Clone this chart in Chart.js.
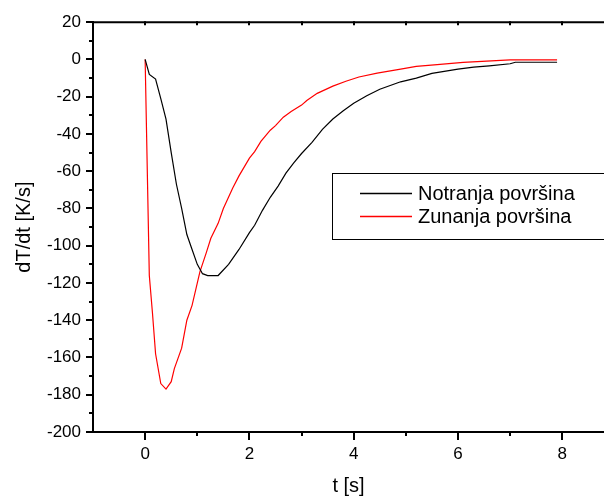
<!DOCTYPE html>
<html>
<head>
<meta charset="utf-8">
<script src="https://cdn.jsdelivr.net/npm/chart.js@4/dist/chart.umd.min.js"></script>
<style>
  html, body { margin: 0; padding: 0; background: #fff; }
  #wrap { width: 604px; height: 497px; }
</style>
</head>
<body>
<div id="wrap"><canvas id="c" width="604" height="497"></canvas></div>
<script>
// Inner surface (Notranja površina): time [s] and dT/dt [K/s]
const tInner = [0, 0.08, 0.2, 0.3, 0.4, 0.5, 0.6, 0.7, 0.8, 0.9, 1.0, 1.1, 1.2, 1.4, 1.6, 1.8, 2.0, 2.1, 2.25, 2.4, 2.55, 2.7, 2.85, 3.0, 3.2, 3.4, 3.6, 3.8, 4.0, 4.25, 4.5, 4.9, 5.2, 5.5, 6.0, 6.3, 6.6, 7.0, 7.1, 7.9];
const vInner = [0, -8, -10.5, -21, -32, -50, -67, -80, -94, -102, -110, -115, -116, -116, -110, -102, -93, -89, -81, -74, -68, -61, -55.5, -50.5, -44.5, -37.5, -32, -27.5, -23.5, -19.5, -16, -12, -10, -7.5, -5.2, -4.1, -3.4, -2.3, -1.5, -1.5];

// Outer surface (Zunanja površina)
const tOuter = [0, 0.08, 0.14, 0.2, 0.3, 0.4, 0.5, 0.56, 0.7, 0.8, 0.9, 1.05, 1.17, 1.26, 1.4, 1.5, 1.68, 1.8, 2.0, 2.1, 2.22, 2.4, 2.5, 2.65, 2.8, 3.0, 3.1, 3.3, 3.6, 3.85, 4.1, 4.45, 4.9, 5.2, 5.6, 6.1, 7.0, 7.9];
const vOuter = [0, -116, -136, -158, -174, -177, -173, -166, -155, -140, -132, -114, -104, -96, -88, -80, -69, -62.5, -53, -49.5, -44, -38, -35.5, -31, -28, -24.5, -22, -18.2, -14.3, -11.7, -9.4, -7.3, -5.2, -3.7, -2.8, -1.6, -0.2, -0.2];

const seriesNames = ['Notranja površina', 'Zunanja površina'];
const seriesColors = ['#000000', '#ff0000'];

const xTickLabels = [0, 2, 4, 6, 8];
const xMinorTicks = [1, 3, 5, 7];
const yTickLabels = [20, 0, -20, -40, -60, -80, -100, -120, -140, -160, -180, -200];
const yMinorTicks = [10, -10, -30, -50, -70, -90, -110, -130, -150, -170, -190];

const xTitle = 't [s]';
const yTitle = 'dT/dt [K/s]';

const toPoints = (ts, vs) => ts.map((t, i) => ({ x: t, y: vs[i] }));

const FONT = "'Liberation Sans', Arial, sans-serif";

// Frame, tick marks and the in-plot legend
const framePlugin = {
  id: 'frame',
  afterDatasetsDraw(chart) {
    const ctx = chart.ctx;
    const xs = chart.scales.x, ys = chart.scales.y;
    const a = chart.chartArea;
    ctx.save();
    ctx.strokeStyle = '#000';
    ctx.lineWidth = 2;
    // top frame line
    ctx.beginPath();
    ctx.moveTo(a.left, a.top);
    ctx.lineTo(a.right, a.top);
    ctx.stroke();
    // x ticks
    xTickLabels.forEach(v => {
      const px = Math.round(xs.getPixelForValue(v));
      ctx.beginPath(); ctx.moveTo(px, a.bottom); ctx.lineTo(px, a.bottom + 8); ctx.stroke();
    });
    xMinorTicks.forEach(v => {
      const px = Math.round(xs.getPixelForValue(v));
      ctx.beginPath(); ctx.moveTo(px, a.bottom); ctx.lineTo(px, a.bottom + 4); ctx.stroke();
    });
    // small marks on the top line
    xTickLabels.concat(xMinorTicks).forEach(v => {
      const px = Math.round(xs.getPixelForValue(v));
      ctx.beginPath(); ctx.moveTo(px, a.top - 1); ctx.lineTo(px, a.top + 3); ctx.stroke();
    });
    // y ticks
    yTickLabels.forEach(v => {
      const py = Math.round(ys.getPixelForValue(v));
      ctx.beginPath(); ctx.moveTo(a.left, py); ctx.lineTo(a.left - 7, py); ctx.stroke();
    });
    yMinorTicks.forEach(v => {
      const py = Math.round(ys.getPixelForValue(v));
      ctx.beginPath(); ctx.moveTo(a.left, py); ctx.lineTo(a.left - 4, py); ctx.stroke();
    });

    // legend box
    ctx.lineWidth = 1;
    ctx.strokeRect(332.5, 173.5, 300, 66);
    ctx.font = '20px ' + FONT;
    ctx.textBaseline = 'middle';
    ctx.textAlign = 'left';
    const rowsY = [193, 216];
    chart.data.datasets.forEach((ds, i) => {
      ctx.strokeStyle = ds.borderColor;
      ctx.lineWidth = 1.3;
      ctx.beginPath();
      ctx.moveTo(360, rowsY[i] + 0.5);
      ctx.lineTo(412, rowsY[i] + 0.5);
      ctx.stroke();
      ctx.fillStyle = '#000';
      ctx.fillText(ds.label, 418, rowsY[i] + 1);
    });
    ctx.restore();
  }
};

new Chart(document.getElementById('c'), {
  type: 'line',
  data: {
    datasets: [
      { label: seriesNames[0], data: toPoints(tInner, vInner), borderColor: seriesColors[0], borderWidth: 1.2, pointRadius: 0, tension: 0, fill: false },
      { label: seriesNames[1], data: toPoints(tOuter, vOuter), borderColor: seriesColors[1], borderWidth: 1.2, pointRadius: 0, tension: 0, fill: false }
    ]
  },
  options: {
    responsive: false,
    animation: false,
    events: [],
    layout: { padding: { top: 15, right: 0, left: 0, bottom: 0 } },
    plugins: { legend: { display: false }, tooltip: { enabled: false } },
    scales: {
      x: {
        type: 'linear',
        min: -1,
        max: 8.8,
        grid: { display: false, drawTicks: false },
        border: { display: true, color: '#000', width: 2 },
        afterBuildTicks: s => { s.ticks = xTickLabels.map(v => ({ value: v })); },
        afterFit: s => { s.height = 65; },
        ticks: { color: '#000', font: { family: FONT, size: 17 }, padding: 12, maxRotation: 0, autoSkip: false },
        title: { display: true, text: xTitle, color: '#000', font: { family: FONT, size: 20 }, padding: { top: 0, bottom: -1 } }
      },
      y: {
        type: 'linear',
        min: -200,
        max: 20,
        grid: { display: false, drawTicks: false },
        border: { display: true, color: '#000', width: 2 },
        afterBuildTicks: s => { s.ticks = yTickLabels.map(v => ({ value: v })); },
        afterFit: s => { s.width = 93; },
        ticks: { color: '#000', font: { family: FONT, size: 17 }, padding: 12, autoSkip: false },
        title: { display: true, text: yTitle, color: '#000', font: { family: FONT, size: 20 }, padding: { top: 12, bottom: 0 } }
      }
    }
  },
  plugins: [framePlugin]
});
</script>
</body>
</html>
